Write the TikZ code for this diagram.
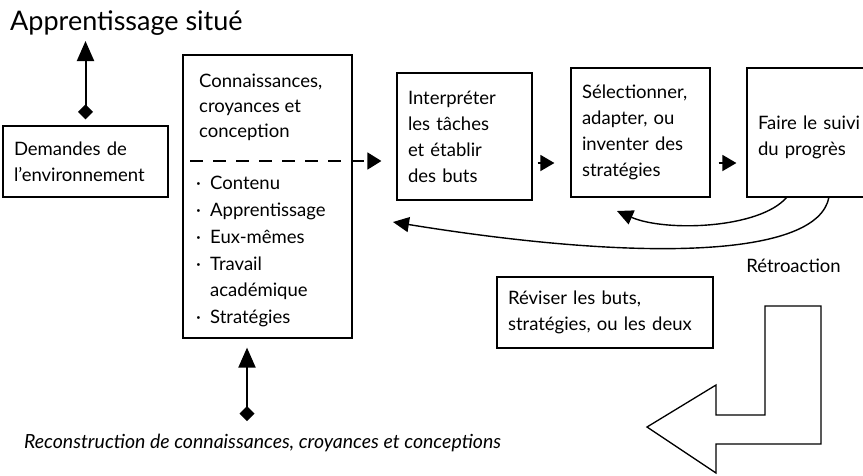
\documentclass[tikz,border=0pt]{standalone}
\usepackage{fontspec}
\setmainfont{Lato}
\usetikzlibrary{arrows.meta}
\begin{document}
\begin{tikzpicture}[x=1pt,y=-1pt,
  bodyfont/.style={font=\fontsize{18.5}{26}\selectfont},
  box/.style={draw, line width=1.2pt, align=left, inner xsep=11pt, inner ysep=0pt, bodyfont},
  txt/.style={align=left, inner sep=0pt, bodyfont},
  arr/.style={line width=1.6pt, -{Triangle[length=14pt,width=16pt]}},
  varr/.style={line width=2pt, {Diamond[length=15pt,width=15pt]}-{Triangle[length=20pt,width=17pt]}},
  fb/.style={line width=1.4pt, -{Triangle[length=16pt,width=15pt]}}
]
\useasboundingbox (0,0) rectangle (863,475);
\path[clip] (0,0) rectangle (863,475);

% title
\node[anchor=base west, inner sep=0pt, font=\fontsize{27}{30}\selectfont] (title) at (10,30) {Apprentissage situé};

% boxes
\node[box, text width=143pt, minimum height=71pt] (dem) at (85.5,161.5) {Demandes de\\l'environnement};
\node[draw, line width=1.2pt, minimum width=169pt, minimum height=283pt, inner sep=0pt] (know) at (267.5,196.5) {};
\node[txt, anchor=north west, font=\fontsize{18.5}{25}\selectfont] (head) at (199,74) {Connaissances,\\croyances et\\conception};
\node[txt, anchor=north west, font=\fontsize{18.5}{26.8}\selectfont] (list) at (196,176)
  {\makebox[14pt][l]{·}Contenu\\
   \makebox[14pt][l]{·}Apprentissage\\
   \makebox[14pt][l]{·}Eux-mêmes\\
   \makebox[14pt][l]{·}Travail\\
   \makebox[14pt][l]{}académique\\
   \makebox[14pt][l]{·}Stratégies};
\node[box, text width=113pt, minimum height=127pt] (interp) at (464.5,136.5) {Interpréter\\les tâches\\et établir\\des buts};
\node[box, text width=117pt, minimum height=129pt] (sel) at (640.5,132.5) {Sélectionner,\\adapter, ou\\inventer des\\stratégies};
\node[box, text width=108pt, minimum height=129pt] (faire) at (812,132.5) {\rule{0pt}{24pt}Faire le suivi\\du progrès};
\node[box, text width=194pt, minimum height=71pt] (rev) at (605,312.5) {Réviser les buts,\\stratégies, ou les deux};
\node[txt] (retro) at (793.5,266) {Rétroaction};
\node[txt, font=\fontsize{19.5}{23}\itshape] (recon) at (262.5,443) {Reconstruction de connaissances, croyances et conceptions};

% dashed separator and arrow
\coordinate (dstart) at (190,161);
\draw[line width=1.6pt, dash pattern=on 13pt off 10pt, -{Triangle[length=14pt,width=17pt]}, shorten >=15pt] (dstart) -- (interp.west |- dstart);

% arrows between boxes
\coordinate (rowA) at (0,163);
\draw[arr, shorten <=5pt, shorten >=16pt] (interp.east |- rowA) -- (sel.west |- rowA);
\draw[arr, shorten <=8pt, shorten >=10pt] (sel.east |- rowA) -- (faire.west |- rowA);

% vertical double arrows
\coordinate (topy) at (0,41);
\draw[varr, shorten <=6pt] (dem.north) -- (dem.north |- topy);
\coordinate (bx) at (247,421);
\draw[varr, shorten >=9pt] (bx) -- (know.south -| bx);

% feedback curves
\coordinate (f1) at (787,197);
\coordinate (t1) at (617,211);
\coordinate (f2) at (829,197);
\coordinate (t2) at (393,222);
\draw[fb] (f1) .. controls (760,229) and (665,232) .. (t1);
\draw[fb] (f2) .. controls (818,258) and (640,262) .. (t2);

% big bent arrow
\draw[line width=1.3pt, line join=miter] (765,306) -- (821,306) -- (821,444) -- (716,444) -- (716,473) -- (647,427) -- (716,385) -- (716,415) -- (765,415) -- cycle;
\end{tikzpicture}
\end{document}
